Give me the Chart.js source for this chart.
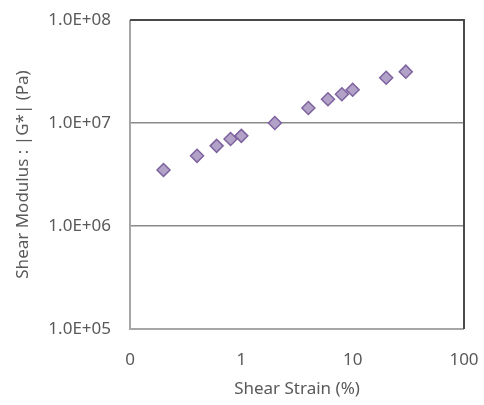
<!DOCTYPE html>
<html>
<head>
<meta charset="utf-8">
<script src="https://cdn.jsdelivr.net/npm/chart.js@4"></script>
<style>
    html, body { margin: 0; padding: 0; background: #fff; }
    #wrap { width: 484px; height: 405px; }
</style>
</head>
<body>
<div id="wrap"><canvas id="chart" width="484" height="405"></canvas></div>
<script>
// data
const strain = [0.2, 0.4, 0.6, 0.8, 1, 2, 4, 6, 8, 10, 20, 30];
const modulus = [3.5e6, 4.8e6, 6.0e6, 7.0e6, 7.5e6, 1.0e7, 1.4e7, 1.7e7, 1.9e7, 2.1e7, 2.75e7, 3.15e7];

const xTicks = [0.1, 1, 10, 100];
const xTickLabels = ["0", "1", "10", "100"];
const yTicks = [1e5, 1e6, 1e7, 1e8];
const yTickLabels = ["1.0E+05", "1.0E+06", "1.0E+07", "1.0E+08"];

const textColor = "#595959";
const font = { family: "'Noto Sans', sans-serif", size: 17 };

// frame round the plot: light left/bottom, dark top/right
const frame = {
    id: "frame",
    afterDraw(chart) {
        const { ctx, chartArea: a } = chart;
        ctx.save();
        ctx.lineWidth = 2;
        ctx.strokeStyle = "#a6a6a6";
        ctx.beginPath();
        ctx.moveTo(a.left, a.top);
        ctx.lineTo(a.left, a.bottom);
        ctx.lineTo(a.right, a.bottom);
        ctx.stroke();
        ctx.strokeStyle = "#4a4a4a";
        ctx.beginPath();
        ctx.moveTo(a.left, a.top);
        ctx.lineTo(a.right, a.top);
        ctx.lineTo(a.right, a.bottom);
        ctx.stroke();
        ctx.restore();
    }
};

// fixed axis sizes, no extra room for overhanging labels
const fitTo = size => scale => {
    if (scale.isHorizontal()) scale.height = size;
    else scale.width = size;
    scale.paddingTop = 0;
    scale.paddingBottom = 0;
    scale.paddingLeft = 0;
    scale.paddingRight = 0;
};

new Chart(document.getElementById("chart"), {
    type: "scatter",
    data: {
        datasets: [{
            data: strain.map((x, i) => ({ x: x, y: modulus[i] })),
            pointStyle: "rectRot",
            pointRadius: 6.5,
            pointHoverRadius: 6.5,
            backgroundColor: "#b3a2c7",
            borderColor: "#7d62a0",
            borderWidth: 1.5
        }]
    },
    options: {
        responsive: false,
        animation: false,
        layout: { padding: { top: 20, right: 20, left: 0, bottom: 0 } },
        plugins: { legend: { display: false }, tooltip: { enabled: false } },
        scales: {
            x: {
                type: "logarithmic",
                min: 0.1,
                max: 100,
                afterBuildTicks: scale => { scale.ticks = xTicks.map(v => ({ value: v })); },
                afterFit: fitTo(76),
                ticks: {
                    color: textColor,
                    font: font,
                    padding: 13,
                    maxRotation: 0,
                    callback: v => xTickLabels[xTicks.indexOf(v)]
                },
                grid: { display: false },
                border: { display: false },
                title: {
                    display: true,
                    text: "Shear Strain (%)",
                    color: textColor,
                    font: font,
                    padding: { top: 0, bottom: 6 }
                }
            },
            y: {
                type: "logarithmic",
                min: 1e5,
                max: 1e8,
                afterBuildTicks: scale => { scale.ticks = yTicks.map(v => ({ value: v })); },
                afterFit: fitTo(130),
                ticks: {
                    color: textColor,
                    font: font,
                    padding: 19,
                    callback: v => yTickLabels[yTicks.indexOf(v)]
                },
                grid: { color: "#8a8a8a", lineWidth: 1.5, drawTicks: false },
                border: { display: false },
                title: {
                    display: true,
                    text: "Shear Modulus : |G*| (Pa)",
                    color: textColor,
                    font: font,
                    padding: { top: 13, bottom: 0 }
                }
            }
        }
    },
    plugins: [frame]
});
</script>
</body>
</html>
